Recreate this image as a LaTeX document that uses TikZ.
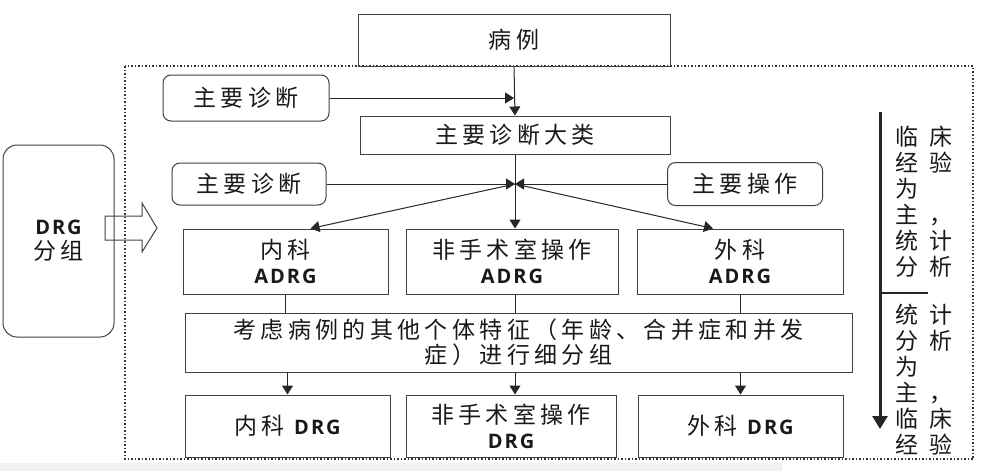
\documentclass[tikz,border=0pt]{standalone}
\usepackage{fontspec}
\setmainfont{Noto Sans CJK SC}[LetterSpace=19]
\newfontfamily\latin{Open Sans}[LetterSpace=10]
\newcommand{\en}[1]{{\latin\bfseries\fontsize{20}{25}\selectfont #1}}
\usetikzlibrary{arrows.meta}

\begin{document}
\begin{tikzpicture}[x=1pt,y=-1pt,
  box/.style={draw=black!75,line width=1pt,inner sep=0pt,align=center,text=black!90,font=\fontsize{23}{25}\selectfont},
  rbox/.style={box,rounded corners=8pt},
  link/.style={draw=black!85,line width=1pt},
  arr/.style={link,-{Triangle[length=9pt,width=11pt]}},
  note/.style={inner sep=0pt,align=left,anchor=north west,text=black!90,font=\fontsize{23}{25.9}\selectfont\addfontfeature{LetterSpace=50}}]
\useasboundingbox (0,0) rectangle (981,471);
\fill[black!6] (0,463) rectangle (782,471);

\draw[dotted,line width=1.5pt,black!80] (125,66) rectangle (973,459);

\node[box,minimum width=312pt,minimum height=52pt] (case) at (514,40) {病例};
\node[rbox,minimum width=166pt,minimum height=46pt] (pdx) at (246,98) {主要诊断};
\node[box,minimum width=310pt,minimum height=38pt] (mdc) at (515,135) {主要诊断大类};
\node[rbox,minimum width=154pt,minimum height=42pt] (pdy) at (249,184) {主要诊断};
\node[rbox,minimum width=155pt,minimum height=43pt] (op) at (745,184) {主要操作};

\node[box,minimum width=205pt,minimum height=65pt] (medA) at (285.5,261.5) {内科\\\en{ADRG}};
\node[box,minimum width=212pt,minimum height=65pt] (norA) at (512,261.5) {非手术室操作\\\en{ADRG}};
\node[box,minimum width=206pt,minimum height=65pt] (surA) at (740,261.5) {外科\\\en{ADRG}};

\node[box,minimum width=667pt,minimum height=59pt] (split) at (518.5,342.5) {考虑病例的其他个体特征（年龄、合并症和并发\\症）进行细分组};

\node[box,minimum width=205pt,minimum height=62pt] (medD) at (287.5,426) {内科 \en{DRG}};
\node[box,minimum width=210pt,minimum height=62pt] (norD) at (511,426) {非手术室操作\\\en{DRG}};
\node[box,minimum width=205pt,minimum height=62pt] (surD) at (740.5,426) {外科 \en{DRG}};

\node[rbox,rounded corners=14pt,minimum width=111pt,minimum height=192pt] (grp) at (58.5,241) {\en{DRG}\\分组};
\draw[line width=1pt,black!75] (105,216) -- (142,216) -- (142,203) -- (157,228) -- (142,252) -- (142,240) -- (105,240) -- cycle;

% main flow
\draw[arr] (case.south) -- (mdc.north);
\draw[arr] (pdx.east) -- (case.south |- pdx.east);
\coordinate (hub) at (mdc.south |- pdy.east);
\draw[arr] (mdc.south) -- (mdc.south |- norA.north);
\draw[arr] (pdy.east) -- (hub);
\draw[arr] (op.west) -- (hub);
\draw[arr] (hub) -- ([xshift=25pt]medA.north);
\draw[arr] (hub) -- ([xshift=-27pt]surA.north);

\draw[link] (medA.south) -- (medA.south |- split.north);
\draw[link] (mdc.south |- norA.south) -- (mdc.south |- split.north);
\draw[link] (surA.south) -- (surA.south |- split.north);
\draw[arr] (medD.north |- split.south) -- (medD.north);
\draw[arr] (mdc.south |- split.south) -- (mdc.south |- norD.north);
\draw[arr] (surD.north |- split.south) -- (surD.north);

% right side
\coordinate (top) at (880,112);
\coordinate (bot) at (880,429);
\coordinate (tickA) at (880,293);
\coordinate (tickB) at (928,293);
\draw[line width=3pt,black!85,-{Triangle[length=13pt,width=15pt]}] (top) -- (bot);
\draw[line width=2pt,black!85] (tickA) -- (tickB);
\node[note] (clin) at (895,126) {临床\\经验\\为\\主，\\统计\\分析};
\node[note] (stat) at (895,304) {统计\\分析\\为\\主，\\临床\\经验};
\end{tikzpicture}
\end{document}
